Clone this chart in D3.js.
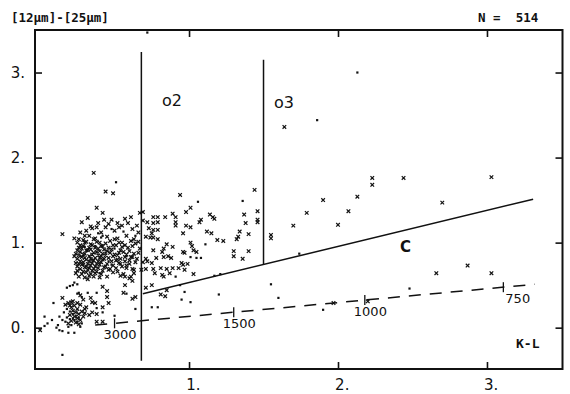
<!DOCTYPE html>
<html>
<head>
<meta charset="utf-8">
<script src="https://cdn.jsdelivr.net/npm/d3@7"></script>
<style>
  body { margin: 0; background: #fff; }
  svg text { fill: #111; }
</style>
</head>
<body>
<div id="chart"></div>
<script>
// tick values
const xTicks = [1, 2, 3];
const yTicks = [0, 1, 2, 3];

// temperatures marked along the blackbody (dashed) line
const tempLabels = ["3000", "1500", "1000", "750"];
const tempX = [0.50, 1.30, 2.18, 3.11];

// reference lines
const blackbody = [[0.37, 0.03], [3.32, 0.51]];
const lineC = [[0.69, 0.40], [3.31, 1.51]];
const lineO2 = [[0.68, 3.24], [0.68, -0.39]];
const lineO3 = [[1.50, 3.15], [1.50, 0.74]];

// sources plotted as crosses
const crosses = [
  [1.64,2.36],[2.23,1.76],[2.23,1.68],[2.44,1.76],[3.03,1.77],[1.90,1.50],[2.13,1.54],[1.79,1.35],
  [2.07,1.37],[2.70,1.47],[1.70,1.20],[2.00,1.21],[1.55,1.09],[1.55,1.05],[2.66,0.64],[2.87,0.73],
  [3.03,0.64],[1.97,0.29],[2.20,0.31],
  [0.94,1.56],[1.44,1.62],[1.01,1.41],[0.98,1.36],[1.46,1.37],[1.37,1.33],[0.76,1.30],[0.79,1.30],
  [0.84,1.30],[0.89,1.34],[0.91,1.30],[1.14,1.33],[1.16,1.30],[1.17,1.28],[1.08,1.27],[1.07,1.24],
  [0.69,1.26],[0.72,1.24],[0.76,1.23],[0.79,1.24],[0.91,1.24],[0.91,1.20],[1.46,1.24],[1.46,1.27],
  [1.38,1.23],[0.98,1.20],[1.01,1.18],[0.73,1.17],[0.76,1.15],[0.75,1.11],[0.79,1.15],[0.96,1.11],
  [1.12,1.13],[1.15,1.11],[1.34,1.13],[1.33,1.07],[1.32,1.04],[1.40,1.10],[0.71,1.07],[0.74,1.06],
  [0.76,1.06],[1.19,1.03],[1.23,1.02],[0.79,1.04],[1.01,1.00],[1.02,0.96],[0.85,0.98],[0.83,0.93],
  [0.89,0.95],[0.76,0.91],[0.96,0.89],[0.97,0.88],[1.03,0.91],[1.05,0.89],[1.30,0.90],[1.30,0.84],
  [1.36,0.81],[1.40,0.90],[0.82,0.89],[0.83,0.83],[0.86,0.84],[0.88,0.82],[0.78,0.82],[0.71,0.81],
  [0.72,0.78],[0.69,0.77],[0.75,0.76],[0.95,0.76],[0.96,0.74],[0.99,0.75],[0.71,0.69],[0.76,0.69],
  [0.81,0.70],[0.85,0.69],[0.89,0.70],[0.93,0.70],[0.97,0.68],[0.77,0.64],[0.82,0.62],[0.83,0.60],
  [0.87,0.64],[1.03,0.63],[0.75,0.50],[0.71,0.47],[0.81,0.39],[0.84,0.37],[0.85,0.44],
  [0.36,1.82],[0.44,1.60],[0.49,1.58],[0.38,1.41],[0.42,1.35],[0.32,1.29],[0.28,1.24],[0.15,1.10],
  [0.23,1.05],[0.67,1.35],[0.69,1.36],
  [0.59,1.23],[0.55,1.20],[0.52,1.23],[0.46,1.22],[0.44,1.18],[0.39,1.23],[0.38,1.18],[0.35,1.17],
  [0.31,1.14],[0.34,1.19],[0.62,1.16],[0.65,1.20],[0.66,1.12],[0.50,1.14],[0.41,1.12],[0.30,1.08],
  [0.27,1.12],[0.48,1.27],[0.57,1.28],[0.61,1.30],[0.53,1.18],[0.43,1.27],
  [0.26,1.04],[0.33,1.08],[0.37,1.05],[0.45,1.07],[0.52,1.05],[0.58,1.08],[0.63,1.04],
  [0.25,1.00],[0.29,1.03],[0.31,1.01],[0.36,1.04],[0.40,1.00],[0.47,1.02],[0.50,1.04],[0.55,1.00],
  [0.61,1.02],[0.66,1.01],
  [0.27,0.97],[0.30,1.00],[0.34,0.98],[0.38,1.01],[0.42,0.96],[0.44,0.99],[0.49,0.97],[0.53,1.00],
  [0.57,0.97],[0.64,0.99],
  [0.55,0.95],[0.26,0.94],[0.29,0.96],[0.33,0.94],[0.35,0.97],[0.39,0.93],[0.41,0.96],[0.46,0.94],
  [0.51,0.97],[0.59,0.94],[0.62,0.96],[0.67,0.93],
  [0.25,0.91],[0.28,0.93],[0.31,0.91],[0.34,0.92],[0.37,0.94],[0.40,0.90],[0.43,0.92],[0.45,0.90],
  [0.48,0.92],[0.54,0.91],[0.60,0.90],
  [0.53,0.88],[0.24,0.87],[0.27,0.89],[0.30,0.87],[0.32,0.91],[0.36,0.88],[0.38,0.89],[0.42,0.87],
  [0.47,0.88],[0.50,0.86],[0.56,0.89],[0.63,0.87],[0.66,0.88],
  [0.23,0.84],[0.26,0.85],[0.29,0.86],[0.33,0.84],[0.35,0.86],[0.39,0.85],[0.41,0.84],[0.44,0.85],
  [0.49,0.84],[0.52,0.85],[0.58,0.86],
  [0.57,0.83],[0.25,0.81],[0.28,0.83],[0.30,0.82],[0.34,0.81],[0.37,0.82],[0.40,0.82],[0.43,0.81],
  [0.46,0.82],[0.54,0.81],[0.61,0.83],[0.65,0.81],
  [0.60,0.79],[0.27,0.78],[0.31,0.80],[0.33,0.78],[0.36,0.79],[0.39,0.78],[0.42,0.80],[0.48,0.78],
  [0.51,0.79],[0.57,0.78],
  [0.24,0.76],[0.26,0.75],[0.29,0.77],[0.32,0.75],[0.35,0.76],[0.38,0.75],[0.41,0.77],[0.45,0.75],
  [0.53,0.76],[0.60,0.75],[0.64,0.77],
  [0.58,0.73],[0.25,0.72],[0.28,0.74],[0.31,0.72],[0.34,0.73],[0.37,0.72],[0.40,0.74],[0.44,0.72],
  [0.49,0.73],[0.55,0.72],
  [0.51,0.70],[0.27,0.69],[0.30,0.71],[0.33,0.70],[0.36,0.69],[0.39,0.70],[0.43,0.71],[0.47,0.69],
  [0.58,0.70],[0.62,0.69],
  [0.25,0.67],[0.29,0.66],[0.32,0.68],[0.35,0.67],[0.38,0.66],[0.42,0.67],[0.46,0.68],[0.52,0.66],
  [0.24,0.64],[0.28,0.63],[0.31,0.65],[0.34,0.63],[0.37,0.64],[0.41,0.63],[0.49,0.65],[0.56,0.63],
  [0.63,0.64],
  [0.26,0.60],[0.30,0.59],[0.33,0.61],[0.36,0.60],[0.40,0.59],[0.45,0.60],[0.54,0.61],[0.61,0.60],
  [0.62,0.83],[0.63,0.68],[0.68,0.68],[0.57,0.60],[0.60,0.58],[0.62,0.55],[0.52,0.80],[0.54,0.75],
  [0.32,0.57],[0.45,0.43],[0.42,0.48],[0.57,0.50],[0.56,0.41],[0.15,0.35],[0.21,0.30],[0.25,0.29],
  [0.34,0.35],[0.35,0.30],[0.37,0.29],[0.45,0.36],[0.46,0.29],[0.62,0.34],[0.64,0.36],[0.42,0.07],
  [0.38,0.07],[0.00,-0.03],[0.17,0.27],[0.19,0.29],[0.35,0.18],[0.33,0.15],[0.38,0.16],[0.42,0.24],
  [0.27,0.38],[0.29,0.33],[0.31,0.24],[0.30,0.17],
  [0.20,0.26],[0.21,0.24],[0.23,0.26],[0.25,0.22],[0.22,0.20],[0.24,0.18],[0.26,0.16],[0.28,0.19],
  [0.20,0.15],[0.23,0.13],[0.25,0.11],[0.27,0.09],[0.21,0.08],[0.24,0.06],[0.19,0.05],[0.26,0.04],
  [0.29,0.13],[0.30,0.22],[0.27,0.27],[0.22,0.31]
];

// sources plotted as dots
const dots = [
  [1.74,0.87],[1.55,0.51],[1.60,0.35],[1.90,0.21],[2.48,0.46],[2.13,3.00],[1.86,2.44],[0.72,3.47],
  [1.06,1.48],[1.36,1.49],[1.11,0.98],[1.01,0.83],[1.05,0.82],[1.08,0.82],[0.91,0.60],[1.17,0.61],
  [1.21,0.63],[0.94,0.50],[0.97,0.42],[1.20,0.39],[0.95,0.33],[1.01,0.30],[0.75,0.24],[0.79,0.24],
  [0.51,1.71],[0.39,1.11],[0.41,1.06],[0.42,1.08],[0.48,1.16],[0.56,1.13],[0.64,1.08],
  [0.30,0.95],[0.44,0.88],[0.35,0.80],[0.27,0.84],[0.48,0.74],[0.33,0.70],[0.40,0.64],[0.50,0.93],
  [0.37,0.96],[0.29,0.74],[0.58,0.84],[0.46,0.78],
  [0.23,0.53],[0.25,0.51],[0.22,0.50],[0.20,0.49],[0.18,0.47],[0.26,0.41],[0.32,0.41],[0.38,0.41],
  [0.58,0.40],[0.09,0.29],[0.38,0.23],[0.42,0.18],[0.64,0.22],[0.50,0.14],[0.03,0.13],[0.08,0.09],
  [0.05,0.05],[0.13,0.13],[0.15,0.09],[0.12,0.03],[0.11,0.00],[0.13,-0.03],[0.03,0.02],[0.15,-0.04],
  [0.19,-0.06],[0.23,-0.06],[0.15,-0.32],[0.25,0.40],[0.28,0.36],
  [0.18,0.22],[0.20,0.19],[0.22,0.16],[0.24,0.14],[0.26,0.12],[0.22,0.11],[0.20,0.10],[0.18,0.12],
  [0.23,0.09],[0.25,0.07],[0.21,0.03],[0.17,0.07],[0.28,0.05],[0.16,0.18],[0.19,0.01],[0.27,0.01]
];

const W = 570, H = 394;
const frame = {left: 35, right: 562.5, top: 30, bottom: 369};
const ink = "#111";

const svg = d3.select("#chart")
    .append("svg")
    .attr("width", W)
    .attr("height", H);

const x = d3.scaleLinear()
    .domain([-0.034, 3.507])
    .range([frame.left, frame.right]);

const y = d3.scaleLinear()
    .domain([-0.486, 3.50])
    .range([frame.bottom, frame.top]);

// Inward ticks on all four sides
const tickLen = 7;
const fontTick = "15px 'DejaVu Sans'";

const gBottom = svg.append("g")
    .attr("transform", `translate(0,${frame.bottom})`)
    .call(d3.axisBottom(x).tickValues(xTicks).tickSize(-tickLen).tickPadding(10).tickFormat(d => d + "."));

svg.append("g")
    .attr("transform", `translate(${frame.left},0)`)
    .call(d3.axisLeft(y).tickValues(yTicks).tickSize(-tickLen).tickPadding(10).tickFormat(d => d + "."));

svg.append("g")
    .attr("transform", `translate(0,${frame.top})`)
    .call(d3.axisTop(x).tickValues(xTicks).tickSize(-tickLen).tickFormat(""));

svg.append("g")
    .attr("transform", `translate(${frame.right},0)`)
    .call(d3.axisRight(y).tickValues(yTicks).tickSize(-tickLen).tickFormat(""));

svg.selectAll(".domain").remove();
svg.selectAll(".tick line").attr("stroke", ink).attr("stroke-width", 1.6);
svg.selectAll(".tick text")
    .style("font", fontTick)
    .attr("fill", ink);
gBottom.selectAll(".tick text").attr("dx", "0.25em");

// Frame
svg.append("rect")
    .attr("x", frame.left)
    .attr("y", frame.top)
    .attr("width", frame.right - frame.left)
    .attr("height", frame.bottom - frame.top)
    .attr("fill", "none")
    .attr("stroke", ink)
    .attr("stroke-width", 2);

const line = d3.line().x(d => x(d[0])).y(d => y(d[1]));

// o2, o3 boundaries and line C
[lineO2, lineO3, lineC].forEach(seg => {
  svg.append("path")
      .attr("d", line(seg))
      .attr("fill", "none")
      .attr("stroke", ink)
      .attr("stroke-width", 1.5);
});

// Blackbody line (dashed)
svg.append("path")
    .attr("d", line(blackbody))
    .attr("fill", "none")
    .attr("stroke", ink)
    .attr("stroke-width", 1.5)
    .attr("stroke-dasharray", "12,9");

const bbY = xv => blackbody[0][1] + (xv - blackbody[0][0]) *
    (blackbody[1][1] - blackbody[0][1]) / (blackbody[1][0] - blackbody[0][0]);

// Temperature ticks on the blackbody line
svg.selectAll(".ttick")
    .data(tempX)
    .join("line")
    .attr("class", "ttick")
    .attr("x1", d => x(d))
    .attr("x2", d => x(d))
    .attr("y1", d => y(bbY(d)) - 5)
    .attr("y2", d => y(bbY(d)) + 5)
    .attr("stroke", ink)
    .attr("stroke-width", 1.3);

svg.selectAll(".tlabel")
    .data(tempX)
    .join("text")
    .attr("class", "tlabel")
    .attr("x", (d, i) => x(d) + (i === 3 ? 2 : -11))
    .attr("y", d => y(bbY(d)) + 16)
    .style("font", "13px 'DejaVu Sans'")
    .text((d, i) => tempLabels[i]);

// Scatter: crosses
const cs = 1.8;
svg.append("g")
    .selectAll("path")
    .data(crosses)
    .join("path")
    .attr("transform", d => `translate(${x(d[0])},${y(d[1])})`)
    .attr("d", `M${-cs},${-cs}L${cs},${cs}M${-cs},${cs}L${cs},${-cs}`)
    .attr("stroke", ink)
    .attr("stroke-width", 1.2)
    .attr("fill", "none");

// Scatter: dots
svg.append("g")
    .selectAll("rect")
    .data(dots)
    .join("rect")
    .attr("x", d => x(d[0]) - 1.1)
    .attr("y", d => y(d[1]) - 1.1)
    .attr("width", 2.2)
    .attr("height", 2.2)
    .attr("fill", ink);

// Region labels
svg.append("text").attr("x", 162).attr("y", 106)
    .style("font", "16px 'DejaVu Sans'").text("o2");
svg.append("text").attr("x", 274).attr("y", 108)
    .style("font", "16px 'DejaVu Sans'").text("o3");
svg.append("text").attr("x", 400).attr("y", 252)
    .style("font", "bold 15px 'DejaVu Sans'").text("C");

// Header and axis name
svg.append("text").attr("x", 11).attr("y", 22)
    .style("font", "bold 12.5px 'DejaVu Sans Mono'").text("[12μm]-[25μm]");
svg.append("text").attr("x", 478).attr("y", 22)
    .attr("xml:space", "preserve")
    .style("white-space", "pre")
    .style("font", "bold 12.5px 'DejaVu Sans Mono'").text("N =  514");
svg.append("text").attr("x", 516).attr("y", 348)
    .style("font", "bold 13px 'DejaVu Sans Mono'").text("K-L");
</script>
</body>
</html>
